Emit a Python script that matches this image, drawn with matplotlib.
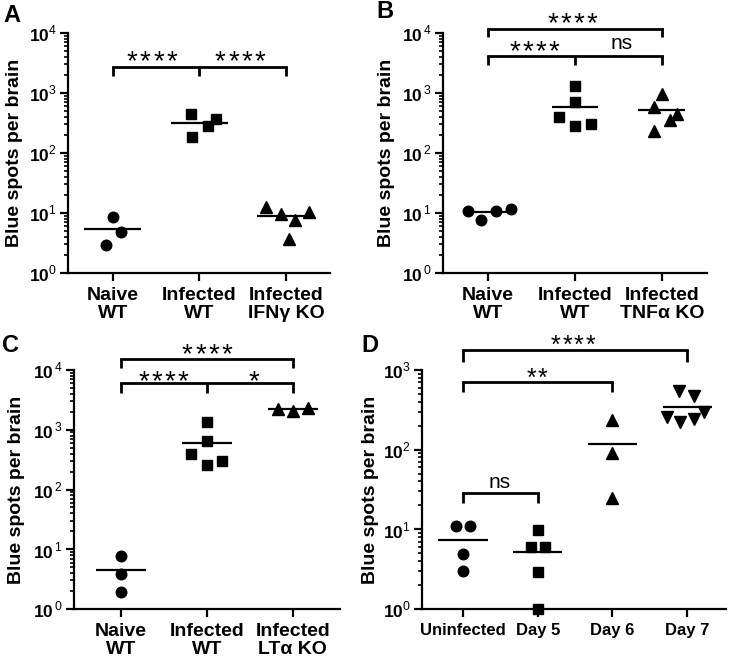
import numpy as np
import matplotlib
matplotlib.use('Agg')
import matplotlib.pyplot as plt
from matplotlib.ticker import LogLocator, FuncFormatter, NullFormatter
from matplotlib.transforms import offset_copy

plt.rcParams['font.family'] = ['Liberation Sans', 'DejaVu Sans']
plt.rcParams['mathtext.fontset'] = 'custom'
plt.rcParams['mathtext.rm'] = 'Liberation Sans'
plt.rcParams['mathtext.bf'] = 'Liberation Sans:bold'

# ---------------- DATA ----------------
a_categories = ['Naive\nWT', 'Infected\nWT', 'Infected\nIFNγ KO']
a_naive_wt = [8.6, 4.8, 2.9]
a_infected_wt = [443, 370, 283, 183]
a_ifng_ko = [12.7, 9.8, 10.4, 7.6, 3.75]

b_categories = ['Naive\nWT', 'Infected\nWT', 'Infected\nTNFα KO']
b_naive_wt = [10.9, 7.7, 10.9, 11.8]
b_infected_wt = [1290, 700, 398, 277, 304]
b_tnfa_ko = [960, 585, 455, 350, 230]

c_categories = ['Naive\nWT', 'Infected\nWT', 'Infected\nLTα KO']
c_naive_wt = [7.6, 3.85, 1.92]
c_infected_wt = [1370, 646, 396, 259, 302]
c_lta_ko = [2230, 2060, 2350]

d_categories = ['Uninfected', 'Day 5', 'Day 6', 'Day 7']
d_uninfected = [10.9, 10.9, 4.9, 2.97]
d_day5 = [9.9, 6.0, 6.0, 2.9, 1.0]
d_day6 = [236, 92, 25]
d_day7 = [546, 472, 255, 221, 240, 300]

# significance labels
a_sig = ['****', '****']
b_sig = ['****', '****', 'ns']
c_sig = ['****', '****', '*']
d_sig = ['****', '**', 'ns']

# ---------------- LAYOUT / STYLE ----------------
W, H = 729, 661
fig = plt.figure(figsize=(W / 100, H / 100), dpi=100)

def make_ax(l, t, r, b):
    return fig.add_axes([l / W, 1 - b / H, (r - l) / W, (b - t) / H])

# horizontal jitter of points (layout only)
a_jit = [[0.0, 0.096, -0.084], [-0.096, 0.19, 0.096, -0.084], [-0.23, -0.057, 0.27, 0.10, 0.035]]
b_jit = [[-0.23, -0.077, 0.096, 0.26], [0, 0, -0.18, 0, 0.18], [0, -0.09, 0.18, 0.09, -0.09]]
c_jit = [[0, 0, 0], [0, 0, -0.19, 0, 0.18], [-0.17, 0, 0.18]]
d_jit = [[-0.093, 0.093, 0, 0], [0, -0.093, 0.093, 0, 0], [0, 0, 0], [-0.11, 0.098, -0.27, -0.098, 0.089, 0.23]]

msizes = {'o': 7.6, 's': 6.6, '^': 8.2, 'v': 8.2}

def fmt_tight(v, p):
    return r'$\mathbf{10}^{%d}$' % int(round(np.log10(v)))

def fmt_space(v, p):
    return r'$\mathbf{10}^{\,%d}$' % int(round(np.log10(v)))

def setup(ax, cats, xlim, ymax_exp, formatter, xfs):
    ax.set_yscale('log')
    ax.set_ylim(1, 10 ** ymax_exp)
    ax.set_xlim(*xlim)
    ax.set_xticks(range(len(cats)))
    ax.set_xticklabels(cats, fontsize=xfs, fontweight='bold', linespacing=1.05)
    ax.yaxis.set_major_locator(LogLocator(base=10, numticks=10))
    ax.yaxis.set_minor_locator(LogLocator(base=10, subs=np.arange(2, 10), numticks=100))
    ax.yaxis.set_major_formatter(FuncFormatter(formatter))
    ax.yaxis.set_minor_formatter(NullFormatter())
    for s in ['top', 'right']:
        ax.spines[s].set_visible(False)
    for s in ['left', 'bottom']:
        ax.spines[s].set_linewidth(1.6)
    ax.tick_params(axis='y', which='major', length=6, width=1.6, pad=2, labelsize=12.5)
    ax.tick_params(axis='y', which='minor', length=3, width=1.2)
    ax.tick_params(axis='x', which='major', length=6, width=1.6, pad=4)
    ax.set_ylabel('Blue spots per brain', fontsize=14, fontweight='bold')

def groups(ax, data, jits, markers, hw):
    for i, (vals, jit, m) in enumerate(zip(data, jits, markers)):
        xs = [i + j for j in jit]
        ax.plot(xs, vals, linestyle='none', marker=m, ms=msizes[m], color='black',
                clip_on=False, zorder=3)
        ax.plot([i - hw, i + hw], [np.mean(vals)] * 2, color='black', lw=1.6,
                solid_capstyle='butt', zorder=4)

def bracket(ax, xs, ytop, ybot):
    x0, x1 = min(xs), max(xs)
    ax.plot([x0, x1], [10 ** ytop] * 2, color='black', lw=2.0, clip_on=False,
            solid_capstyle='projecting', zorder=5)
    for x in xs:
        ax.plot([x, x], [10 ** ytop, 10 ** ybot], color='black', lw=2.0, clip_on=False,
                solid_capstyle='butt', zorder=5)

def sig(ax, x, yc, s, fs, spacing=9.5):
    if s == 'ns':
        tr = offset_copy(ax.transData, fig=fig, y=-0.26 * fs, units='points')
        ax.text(x, 10 ** yc, s, transform=tr, ha='center', va='baseline', fontsize=fs,
                clip_on=False, zorder=6)
        return
    n = len(s)
    for k in range(n):
        dx = (k - (n - 1) / 2) * spacing
        tr = offset_copy(ax.transData, fig=fig, x=dx, y=-0.57 * fs, units='points')
        ax.text(x, 10 ** yc, '*', transform=tr, ha='center', va='baseline', fontsize=fs,
                clip_on=False, zorder=6)

# ---------------- PANEL A ----------------
axA = make_ax(68, 33, 330, 273)
setup(axA, a_categories, (-0.52, 2.51), 4, fmt_tight, 14)
groups(axA, [a_naive_wt, a_infected_wt, a_ifng_ko], a_jit, ['o', 's', '^'], 0.33)
bracket(axA, [0, 1, 2], 3.44, 3.29)
sig(axA, 0.45, 3.66, a_sig[0], 20)
sig(axA, 1.47, 3.66, a_sig[1], 20)
axA.yaxis.set_label_coords(-0.172, 0.5)

# ---------------- PANEL B ----------------
axB = make_ax(443, 33, 707, 273)
setup(axB, b_categories, (-0.52, 2.52), 4, fmt_space, 14)
groups(axB, [b_naive_wt, b_infected_wt, b_tnfa_ko], b_jit, ['o', 's', '^'], 0.27)
bracket(axB, [0, 2], 4.07, 3.93)
bracket(axB, [0, 1, 2], 3.61, 3.47)
sig(axB, 0.97, 4.30, b_sig[0], 20)
sig(axB, 0.53, 3.82, b_sig[1], 20)
sig(axB, 1.54, 3.83, b_sig[2], 15)
axB.yaxis.set_label_coords(-0.18, 0.5)

# ---------------- PANEL C ----------------
axC = make_ax(74, 370, 340, 609)
setup(axC, c_categories, (-0.55, 2.55), 4, fmt_space, 14)
groups(axC, [c_naive_wt, c_infected_wt, c_lta_ko], c_jit, ['o', 's', '^'], 0.29)
bracket(axC, [0, 2], 4.18, 4.04)
bracket(axC, [0, 1, 2], 3.79, 3.61)
sig(axC, 1.0, 4.39, c_sig[0], 20)
sig(axC, 0.49, 3.94, c_sig[1], 20)
sig(axC, 1.55, 3.94, c_sig[2], 20)
axC.yaxis.set_label_coords(-0.184, 0.5)

# ---------------- PANEL D ----------------
axD = make_ax(422, 370, 726, 609)
setup(axD, d_categories, (-0.55, 3.52), 3, fmt_tight, 12)
groups(axD, [d_uninfected, d_day5, d_day6, d_day7], d_jit, ['o', 's', '^', 'v'], 0.33)
bracket(axD, [0, 3], 3.25, 3.105)
bracket(axD, [0, 2], 2.846, 2.73)
bracket(axD, [0, 1], 1.454, 1.33)
sig(axD, 1.47, 3.40, d_sig[0], 18, spacing=8.3)
sig(axD, 0.99, 2.98, d_sig[1], 18, spacing=8.3)
sig(axD, 0.49, 1.59, d_sig[2], 15)
axD.yaxis.set_label_coords(-0.141, 0.5)

# panel letters
for lab, x, y in [('A', 3, 4), ('B', 376, 0), ('C', 2, 334), ('D', 361, 334)]:
    fig.text(x / W, 1 - y / H, lab, fontsize=17, fontweight='bold', ha='left', va='top')

fig.savefig('out.png', dpi=100)
